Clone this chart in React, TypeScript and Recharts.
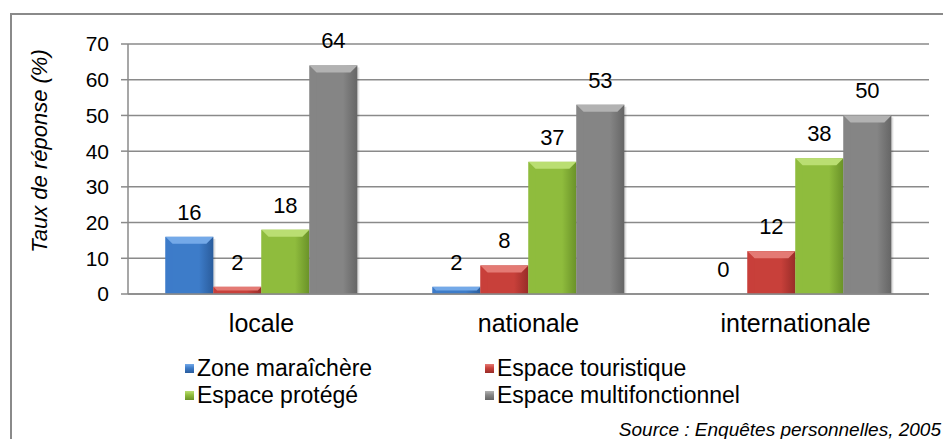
import React from "react"
import { BarChart, Bar, XAxis, YAxis, CartesianGrid, LabelList, Label } from "recharts"

const categories = ["locale", "nationale", "internationale"]
const seriesNames = ["Zone maraîchère", "Espace touristique", "Espace protégé", "Espace multifonctionnel"]
const zoneMaraichere = [16, 2, 0]
const espaceTouristique = [2, 8, 12]
const espaceProtege = [18, 37, 38]
const espaceMulti = [64, 53, 50]
const yTicks = [0, 10, 20, 30, 40, 50, 60, 70]

const keys = ["s0", "s1", "s2", "s3"]
const data = categories.map((c, i) => ({
  cat: c,
  s0: zoneMaraichere[i],
  s1: espaceTouristique[i],
  s2: espaceProtege[i],
  s3: espaceMulti[i],
}))

const PALETTE = [
  { base: "#3d7cc9", light: "#74a9e8", dark: "#2a5c9c" },
  { base: "#c8403a", light: "#e47a74", dark: "#982c28" },
  { base: "#8fbc3d", light: "#bade72", dark: "#6a9228" },
  { base: "#858585", light: "#b2b2b2", dark: "#656565" },
]

const FONT = "'Liberation Sans', Arial, sans-serif"
const GRID = "#8a8a8a"

function makeShape(idx: number) {
  return (props: any) => {
    const { x, y, width, height } = props
    if (!height || height <= 0) return <g />
    const p = PALETTE[idx]
    const b = Math.min(7, height / 2)
    return (
      <g>
        <rect x={x + 2} y={y + 2} width={width} height={height - 2} fill="rgba(0,0,0,0.12)" />
        <rect x={x} y={y} width={width} height={height} fill={`url(#g${idx})`} />
        <polygon points={`${x},${y} ${x + width},${y} ${x + width - b},${y + b} ${x + b},${y + b}`} fill={p.light} />
        <polygon points={`${x},${y} ${x + b},${y + b} ${x + b},${y + height} ${x},${y + height}`} fill={p.base} opacity={0.6} />
      </g>
    )
  }
}

const yLabel = () => (
  <text
    x={33}
    y={143}
    transform="rotate(-90 33 143)"
    textAnchor="middle"
    dominantBaseline="middle"
    fontFamily={FONT}
    fontStyle="italic"
    fontSize={22}
    fill="#000"
  >
    Taux de réponse (%)
  </text>
)

function LegendSwatch({ idx }: { idx: number }) {
  const p = PALETTE[idx]
  return (
    <span
      style={{
        display: "inline-block",
        width: 9,
        height: 9,
        marginRight: 3,
        background: `linear-gradient(180deg, ${p.light} 0%, ${p.base} 45%, ${p.dark} 100%)`,
        verticalAlign: "middle",
        position: "relative",
        top: -1,
      }}
    />
  )
}

export default function App() {
  const legendPos = [
    { left: 177, top: 347 },
    { left: 477, top: 347 },
    { left: 177, top: 374 },
    { left: 477, top: 374 },
  ]
  return (
    <div style={{ position: "relative", width: 943, height: 431, overflow: "hidden", background: "#fff" }}>
      <div
        style={{
          position: "absolute",
          left: 2,
          top: 5,
          width: 1200,
          height: 1200,
          borderLeft: `2px solid ${GRID}`,
          borderTop: `2px solid ${GRID}`,
        }}
      />
      <div style={{ position: "absolute", left: 0, top: 0 }}>
        <BarChart
          width={943}
          height={431}
          data={data}
          margin={{ top: 36, right: 22, left: 0, bottom: 95 }}
          barCategoryGap="14%"
          barGap={0}
        >
          <defs>
            {PALETTE.map((p, i) => (
              <linearGradient key={i} id={`g${i}`} x1="0" y1="0" x2="1" y2="0">
                <stop offset="0%" stopColor={p.base} />
                <stop offset="70%" stopColor={p.base} />
                <stop offset="100%" stopColor={p.dark} />
              </linearGradient>
            ))}
          </defs>
          <CartesianGrid vertical={false} stroke={GRID} strokeWidth={1.5} />
          <XAxis
            dataKey="cat"
            tickLine={false}
            tickSize={0}
            tickMargin={20}
            height={50}
            axisLine={{ stroke: GRID, strokeWidth: 1.5 }}
            tick={{ fontSize: 25, fill: "#000", fontFamily: FONT }}
          />
          <YAxis
            width={120}
            domain={[0, 70]}
            ticks={yTicks}
            interval={0}
            tickSize={7}
            tickMargin={12}
            axisLine={{ stroke: GRID, strokeWidth: 1.5 }}
            tickLine={{ stroke: GRID, strokeWidth: 1.5 }}
            tick={{ fontSize: 21, fill: "#000", fontFamily: FONT }}
          >
            <Label content={yLabel} />
          </YAxis>
          {keys.map((k, i) => (
            <Bar key={k} dataKey={k} name={seriesNames[i]} fill={PALETTE[i].base} shape={makeShape(i)} isAnimationActive={false}>
              <LabelList dataKey={k} position="top" offset={17} fontSize={22} fill="#000" fontFamily={FONT} />
            </Bar>
          ))}
        </BarChart>
      </div>
      {seriesNames.map((n, i) => (
        <div
          key={n}
          style={{
            position: "absolute",
            left: legendPos[i].left,
            top: legendPos[i].top,
            fontFamily: FONT,
            fontSize: 23,
            lineHeight: "26px",
            color: "#000",
            whiteSpace: "nowrap",
          }}
        >
          <LegendSwatch idx={i} />
          {n}
        </div>
      ))}
      <div
        style={{
          position: "absolute",
          right: 10,
          top: 411,
          fontFamily: FONT,
          fontStyle: "italic",
          fontSize: 19,
          lineHeight: "22px",
          color: "#000",
          whiteSpace: "nowrap",
        }}
      >
        Source : Enquêtes personnelles, 2005
      </div>
    </div>
  )
}
